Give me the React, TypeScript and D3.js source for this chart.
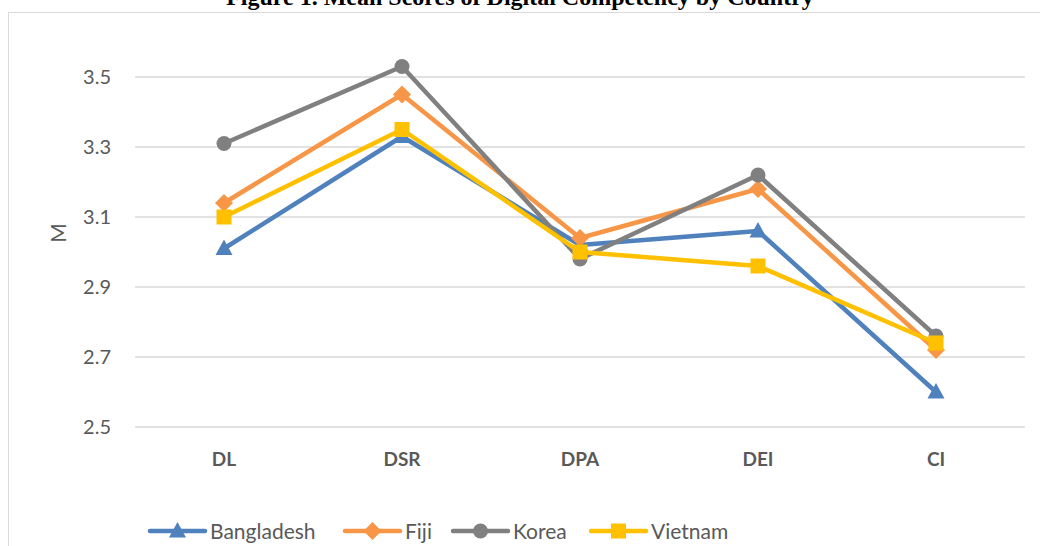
import React from "react";
import * as d3 from "d3";

const categories = ["DL", "DSR", "DPA", "DEI", "CI"];
const seriesNames = ["Bangladesh", "Fiji", "Korea", "Vietnam"];
const bangladesh = [3.01, 3.33, 3.02, 3.06, 2.6];
const fiji = [3.14, 3.45, 3.04, 3.18, 2.72];
const korea = [3.31, 3.53, 2.98, 3.22, 2.76];
const vietnam = [3.1, 3.35, 3.0, 2.96, 2.74];
const yTicks = [2.5, 2.7, 2.9, 3.1, 3.3, 3.5];
const titleText = "Figure 1. Mean Scores of Digital Competency by Country";
const yAxisTitle = "M";

const colors = ["#4F81BD", "#F79646", "#808080", "#FFC000"];
const markers = ["triangle", "diamond", "circle", "square"];
const seriesValues = [bangladesh, fiji, korea, vietnam];

const W = 1040;
const H = 546;
const FONT = "Lato, 'Open Sans', sans-serif";

function Marker({ type, x, y, color }: { type: string; x: number; y: number; color: string }) {
  if (type === "circle") return <circle cx={x} cy={y} r={7.5} fill={color} />;
  if (type === "square") return <rect x={x - 7.5} y={y - 7.5} width={15} height={15} fill={color} />;
  if (type === "diamond")
    return <path d={`M${x},${y - 9}L${x + 9},${y}L${x},${y + 9}L${x - 9},${y}Z`} fill={color} />;
  return <path d={`M${x},${y - 9}L${x + 8.5},${y + 6.5}L${x - 8.5},${y + 6.5}Z`} fill={color} />;
}

export default function App() {
  const x = d3.scaleBand<string>().domain(categories).range([135, 1025]);
  const y = d3.scaleLinear().domain([2.5, 3.6]).range([427, 42]);
  const line = d3
    .line<number>()
    .x((_, i) => (x(categories[i]) as number) + x.bandwidth() / 2)
    .y((v) => y(v));

  const legendX = [150, 345, 453, 591];

  return (
    <svg
      width={W}
      height={H}
      style={{ position: "absolute", left: 0, top: 0, background: "#fff" }}
      fontFamily={FONT}
    >
      <text
        x={520}
        y={5}
        textAnchor="middle"
        fontFamily="'Liberation Serif', 'Times New Roman', serif"
        fontWeight="bold"
        fontSize={24}
        fill="#000"
      >
        {titleText}
      </text>
      <line x1={8} x2={W} y1={12.5} y2={12.5} stroke="#d9d9d9" strokeWidth={1} />
      <line x1={8.5} x2={8.5} y1={12} y2={H} stroke="#d9d9d9" strokeWidth={1} />

      {yTicks.map((t) => (
        <g key={t}>
          <line x1={135} x2={1025} y1={y(t)} y2={y(t)} stroke="#d9d9d9" strokeWidth={1.5} />
          <text x={111} y={y(t)} dy="0.36em" textAnchor="end" fontSize={20} fill="#595959">
            {t.toFixed(1)}
          </text>
        </g>
      ))}
      <text
        transform={`translate(58,${233}) rotate(-90)`}
        textAnchor="middle"
        dy="0.36em"
        fontSize={21}
        fill="#595959"
      >
        {yAxisTitle}
      </text>

      {categories.map((c) => (
        <text
          key={c}
          x={(x(c) as number) + x.bandwidth() / 2}
          y={459}
          dy="0.36em"
          textAnchor="middle"
          fontSize={19}
          fontWeight="bold"
          fill="#595959"
        >
          {c}
        </text>
      ))}

      {seriesValues.map((vals, si) => (
        <g key={seriesNames[si]}>
          <path
            d={line(vals) as string}
            fill="none"
            stroke={colors[si]}
            strokeWidth={4.5}
            strokeLinejoin="round"
            strokeLinecap="round"
          />
          {vals.map((v, i) => (
            <Marker
              key={i}
              type={markers[si]}
              x={(x(categories[i]) as number) + x.bandwidth() / 2}
              y={y(v)}
              color={colors[si]}
            />
          ))}
        </g>
      ))}

      {seriesNames.map((n, si) => {
        const lx = legendX[si];
        const ly = 531;
        return (
          <g key={n}>
            <line x1={lx} x2={lx + 55} y1={ly} y2={ly} stroke={colors[si]} strokeWidth={4.5} strokeLinecap="round" />
            <Marker type={markers[si]} x={lx + 27.5} y={ly} color={colors[si]} />
            <text x={lx + 60} y={ly} dy="0.36em" fontSize={21} fill="#595959">
              {n}
            </text>
          </g>
        );
      })}
    </svg>
  );
}
